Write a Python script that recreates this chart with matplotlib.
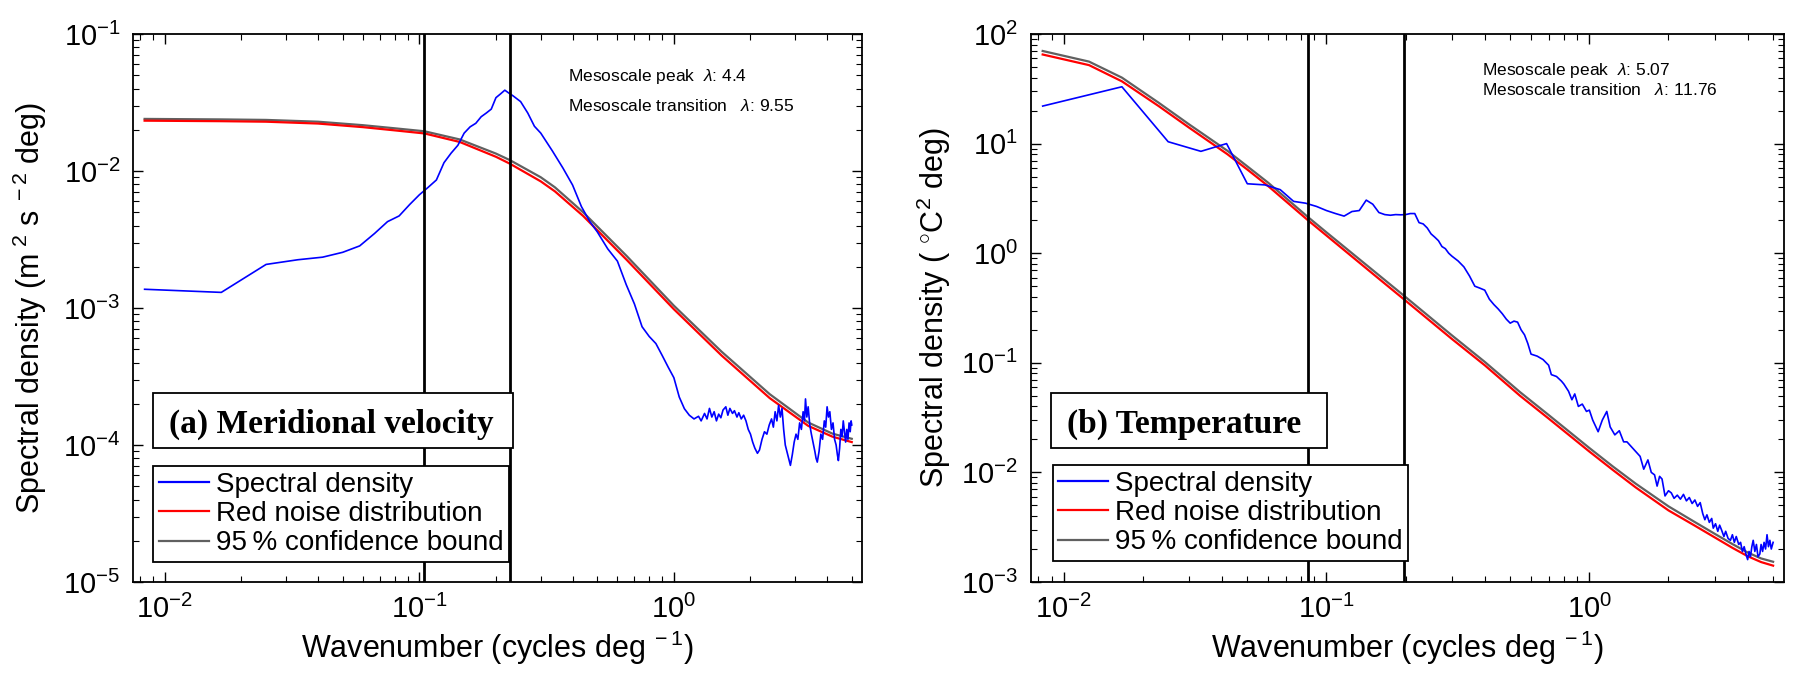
import matplotlib
matplotlib.use('Agg')
import matplotlib.pyplot as plt
from matplotlib.patches import Rectangle
from matplotlib.lines import Line2D
from matplotlib.ticker import LogLocator, NullFormatter

plt.rcParams['font.family'] = ['Liberation Sans', 'DejaVu Sans']
plt.rcParams['mathtext.fontset'] = 'custom'
plt.rcParams['mathtext.rm'] = 'Liberation Sans'
plt.rcParams['mathtext.it'] = 'Liberation Sans:italic'
plt.rcParams['mathtext.bf'] = 'Liberation Sans:bold'

# ---- (a) meridional velocity ----
vel_f = [0.00833, 0.01667, 0.025, 0.0333, 0.0417, 0.05, 0.0583, 0.0667, 0.075, 0.0833,
         0.0917, 0.1, 0.1083, 0.1167, 0.125, 0.1333, 0.1417, 0.15, 0.1583, 0.1667,
         0.175, 0.1833, 0.1917, 0.2, 0.2083, 0.2167, 0.225, 0.2333, 0.25, 0.2667,
         0.2833, 0.3, 0.3333, 0.3667, 0.4, 0.4333, 0.4667, 0.5, 0.55, 0.6,
         0.65, 0.7, 0.75, 0.8, 0.85, 0.9, 0.95, 1.0, 1.05, 1.1,
         1.15, 1.2, 1.25, 1.28, 1.32, 1.35, 1.38, 1.41, 1.44, 1.47,
         1.5, 1.53, 1.56, 1.6, 1.63, 1.66, 1.7, 1.73, 1.77, 1.8,
         1.84, 1.88, 1.92, 1.96, 2.0, 2.04, 2.08, 2.13, 2.17, 2.22,
         2.27, 2.32, 2.37, 2.42, 2.46, 2.5, 2.54, 2.58, 2.62, 2.66,
         2.7, 2.74, 2.8, 2.87, 2.92, 2.97, 3.02, 3.07, 3.12, 3.17,
         3.22, 3.26, 3.29, 3.33, 3.37, 3.42, 3.47, 3.52, 3.58, 3.62,
         3.66, 3.72, 3.78, 3.84, 3.9, 3.95, 4.0, 4.05, 4.1, 4.16,
         4.22, 4.28, 4.34, 4.39, 4.43, 4.48, 4.53, 4.58, 4.63, 4.68,
         4.73, 4.78, 4.83, 4.88, 4.93, 4.97, 5.0]
vel_s = [1.37e-3, 1.30e-3, 2.08e-3, 2.25e-3, 2.35e-3, 2.55e-3, 2.84e-3, 3.5e-3, 4.27e-3, 4.7e-3,
         5.7e-3, 6.7e-3, 7.6e-3, 8.6e-3, 1.15e-2, 1.35e-2, 1.54e-2, 1.89e-2, 2.1e-2, 2.23e-2,
         2.49e-2, 2.65e-2, 2.83e-2, 3.43e-2, 3.65e-2, 3.89e-2, 3.7e-2, 3.54e-2, 3.21e-2, 2.65e-2,
         2.12e-2, 1.89e-2, 1.4e-2, 1.05e-2, 7.9e-3, 5.5e-3, 4.3e-3, 3.6e-3, 2.7e-3, 2.2e-3,
         1.48e-3, 1.07e-3, 7.3e-4, 6.2e-4, 5.5e-4, 4.5e-4, 3.7e-4, 3.1e-4, 2.24e-4, 1.84e-4,
         1.65e-4, 1.55e-4, 1.62e-4, 1.5e-4, 1.7e-4, 1.55e-4, 1.85e-4, 1.6e-4, 1.75e-4, 1.5e-4,
         1.68e-4, 1.58e-4, 1.8e-4, 1.9e-4, 1.65e-4, 1.85e-4, 1.7e-4, 1.78e-4, 1.6e-4, 1.72e-4,
         1.55e-4, 1.65e-4, 1.5e-4, 1.3e-4, 1.2e-4, 1.05e-4, 9.5e-5, 8.7e-5, 9.2e-5, 1.1e-4,
         1.25e-4, 1.2e-4, 1.4e-4, 1.55e-4, 1.35e-4, 1.75e-4, 1.5e-4, 1.95e-4, 1.6e-4, 1.85e-4,
         1.3e-4, 1.0e-4, 8.5e-5, 7.1e-5, 8.5e-5, 1.05e-4, 1.2e-4, 1.1e-4, 1.45e-4, 1.3e-4,
         1.75e-4, 1.5e-4, 2.17e-4, 1.6e-4, 1.9e-4, 1.4e-4, 1.2e-4, 1.05e-4, 9e-5, 8e-5,
         7.5e-5, 9e-5, 1.2e-4, 1.1e-4, 1.5e-4, 1.35e-4, 1.9e-4, 1.6e-4, 1.75e-4, 1.3e-4,
         1.45e-4, 1.1e-4, 1.0e-4, 8.5e-5, 7.7e-5, 9.5e-5, 1.3e-4, 1.15e-4, 1.5e-4, 1.25e-4,
         1.05e-4, 1.3e-4, 1.1e-4, 1.45e-4, 1.25e-4, 1.5e-4, 1.4e-4]
vel_rn_f = [0.00833, 0.0167, 0.025, 0.04, 0.06, 0.08, 0.1047, 0.144, 0.2, 0.227,
            0.3, 0.341, 0.44, 0.652, 1.0, 1.54, 2.38, 3.37, 4.2, 5.0]
vel_red = [0.0233, 0.0231, 0.0229, 0.0222, 0.0209, 0.0198, 0.0188, 0.0163, 0.0127, 0.0113,
           0.0084, 0.0071, 0.0047, 0.00225, 9.8e-4, 4.5e-4, 2.2e-4, 1.38e-4, 1.15e-4, 1.05e-4]
vel_conf = [0.0240, 0.0238, 0.0236, 0.0229, 0.0216, 0.0205, 0.0195, 0.0170, 0.0134, 0.0120,
            0.0090, 0.0076, 0.0050, 0.00240, 1.04e-3, 4.8e-4, 2.35e-4, 1.46e-4, 1.21e-4, 1.11e-4]
vel_lambda = [4.4, 9.55]   # mesoscale peak, mesoscale transition

# ---- (b) temperature ----
tmp_f = [0.00833, 0.01667, 0.025, 0.0333, 0.0417, 0.05, 0.0583, 0.0667, 0.075, 0.0833,
         0.0917, 0.1, 0.1083, 0.1167, 0.125, 0.1333, 0.1417, 0.15, 0.1583, 0.1667,
         0.175, 0.1833, 0.1917, 0.2, 0.2083, 0.2167, 0.225, 0.2333, 0.2417, 0.25,
         0.2583, 0.2667, 0.275, 0.2833, 0.2917, 0.3, 0.3167, 0.3333, 0.35, 0.3667,
         0.3833, 0.4, 0.4167, 0.4333, 0.45, 0.4667, 0.4833, 0.5, 0.5167, 0.5333,
         0.55, 0.5667, 0.5833, 0.6, 0.6333, 0.6667, 0.7, 0.7167, 0.75, 0.7833,
         0.8, 0.8333, 0.8583, 0.88, 0.9083, 0.94, 0.975, 1.0, 1.03, 1.08,
         1.12, 1.165, 1.2, 1.25, 1.3, 1.35, 1.39, 1.45, 1.51, 1.56,
         1.61, 1.67, 1.72, 1.77, 1.81, 1.85, 1.89, 1.94, 2.0, 2.05,
         2.1, 2.16, 2.22, 2.28, 2.34, 2.4, 2.46, 2.52, 2.58, 2.64,
         2.7, 2.75, 2.8, 2.86, 2.92, 2.96, 3.02, 3.08, 3.13, 3.18,
         3.25, 3.3, 3.37, 3.44, 3.5, 3.56, 3.62, 3.7, 3.76, 3.82,
         3.88, 3.94, 4.0, 4.05, 4.1, 4.15, 4.2, 4.26, 4.32, 4.38,
         4.45, 4.5, 4.56, 4.62, 4.68, 4.74, 4.8, 4.86, 4.92, 5.0]
tmp_s = [22, 33, 10.4, 8.5, 10.0, 4.3, 4.2, 3.8, 2.97, 2.86,
         2.67, 2.45, 2.3, 2.18, 2.4, 2.45, 3.05, 2.8, 2.35, 2.25,
         2.22, 2.25, 2.24, 2.25, 2.3, 2.3, 1.9, 1.85, 1.7, 1.5,
         1.4, 1.3, 1.15, 1.1, 1.0, 0.94, 0.85, 0.75, 0.62, 0.5,
         0.48, 0.46, 0.38, 0.34, 0.31, 0.28, 0.25, 0.23, 0.24, 0.235,
         0.2, 0.18, 0.15, 0.12, 0.115, 0.107, 0.095, 0.078, 0.075, 0.068,
         0.064, 0.055, 0.046, 0.052, 0.040, 0.042, 0.036, 0.037, 0.030, 0.0235,
         0.030, 0.036, 0.026, 0.022, 0.024, 0.019, 0.019, 0.017, 0.0153, 0.014,
         0.0107, 0.013, 0.010, 0.0095, 0.0075, 0.0092, 0.0087, 0.0061, 0.0068, 0.0065,
         0.0058, 0.0062, 0.0057, 0.0063, 0.0055, 0.0059, 0.0052, 0.0056, 0.0049, 0.0053,
         0.0042, 0.0037, 0.0041, 0.0035, 0.0038, 0.0031, 0.0034, 0.0029, 0.0033, 0.0030,
         0.0026, 0.0029, 0.0025, 0.0024, 0.0027, 0.0023, 0.0026, 0.0022, 0.0023, 0.0019,
         0.0021, 0.0018, 0.0016, 0.0019, 0.0017, 0.0021, 0.0024, 0.0019, 0.0022, 0.0017,
         0.0018, 0.0022, 0.0019, 0.0023, 0.0020, 0.0027, 0.0021, 0.0024, 0.0020, 0.0023]
tmp_rn_f = [0.00833, 0.0125, 0.01667, 0.023, 0.03, 0.042, 0.05, 0.06, 0.085, 0.1,
            0.15, 0.197, 0.3, 0.4, 0.545, 0.7, 1.0, 1.23, 1.5, 2.0,
            2.5, 3.0, 3.5, 4.0, 4.5, 5.0]
tmp_red = [65, 52, 37, 22, 14, 8.0, 5.8, 4.1, 2.0, 1.45,
           0.65, 0.38, 0.165, 0.095, 0.05, 0.031, 0.0155, 0.0105, 0.0073, 0.0045,
           0.0033, 0.00255, 0.00205, 0.00172, 0.00152, 0.00141]
tmp_conf = [70, 56, 40, 23.6, 15, 8.6, 6.2, 4.4, 2.14, 1.55,
            0.70, 0.41, 0.178, 0.102, 0.054, 0.0334, 0.0167, 0.0113, 0.0079, 0.0049,
            0.00356, 0.00275, 0.00222, 0.00186, 0.00164, 0.00153]
tmp_lambda = [5.07, 11.76]

W, H = 1800, 698
fig = plt.figure(figsize=(W / 100, H / 100), dpi=100)


def fxy(px, py):
    # pixel position (from top-left) -> figure fraction
    return px / W, 1 - py / H


def panel(rect, f, s, rf, red, conf, lam, ylim, ylabel, ylab_x, title, tbox, tpos, legpos, notepos, notegap):
    ax = fig.add_axes(rect)
    ax.plot(rf, conf, color='#606060', lw=1.6, zorder=2)
    ax.plot(rf, red, color='#ff0000', lw=1.6, zorder=2.2)
    ax.plot(f, s, color='#0000ff', lw=1.2, zorder=2.5)
    for l in lam:
        ax.axvline(1 / l, color='black', lw=2.0, zorder=3)
    ax.set_xscale('log')
    ax.set_yscale('log')
    ax.set_xlim(0.0075, 5.5)
    ax.set_ylim(*ylim)
    ax.yaxis.set_major_locator(LogLocator(base=10, numticks=20))
    ax.yaxis.set_minor_locator(LogLocator(base=10, subs=range(2, 10), numticks=100))
    ax.xaxis.set_minor_locator(LogLocator(base=10, subs=range(2, 10), numticks=100))
    ax.xaxis.set_minor_formatter(NullFormatter())
    ax.yaxis.set_minor_formatter(NullFormatter())
    ax.tick_params(which='both', direction='in', top=True, right=True, labelsize=21, pad=9)
    ax.tick_params(which='major', length=7, width=1.0)
    ax.tick_params(which='minor', length=4, width=0.8)
    for sp in ax.spines.values():
        sp.set_linewidth(1.3)
    ax.set_xlabel('Wavenumber (cycles deg$^{\\ -1}$)', fontsize=22)
    ax.xaxis.set_label_coords(0.5, -0.085)
    ax.set_ylabel(ylabel, fontsize=22)
    ax.yaxis.set_label_coords(ylab_x, 0.5)

    # panel title box
    x0, y0, x1, y1 = tbox
    bx, by = fxy(x0, y1)
    rect_patch = Rectangle((bx, by), (x1 - x0) / W, (y1 - y0) / H, transform=fig.transFigure,
                           facecolor='white', edgecolor='black', lw=1.3, zorder=6, clip_on=False)
    ax.add_patch(rect_patch)
    ax.text(*fxy(*tpos), title, transform=fig.transFigure, fontsize=24, fontweight='bold',
            family='Liberation Serif', ha='left', va='baseline', zorder=7)

    handles = [Line2D([], [], color='#0000ff', lw=1.6),
               Line2D([], [], color='#ff0000', lw=1.6),
               Line2D([], [], color='#606060', lw=1.6)]
    labels = ['Spectral density', 'Red noise distribution', '95\u2009% confidence bound']
    leg = ax.legend(handles, labels, loc='upper left', bbox_to_anchor=fxy(*legpos),
                    bbox_transform=fig.transFigure, fontsize=20, frameon=True, fancybox=False,
                    edgecolor='black', framealpha=1, borderpad=0.2, labelspacing=0.12,
                    handlelength=1.8, handletextpad=0.25, borderaxespad=0)
    leg.get_frame().set_linewidth(1.3)
    leg.set_zorder(8)

    nx, ny = notepos
    ax.text(*fxy(nx, ny), 'Mesoscale peak  $\\lambda$: %s' % lam[0], transform=fig.transFigure,
            fontsize=12.5, ha='left', va='baseline')
    ax.text(*fxy(nx, ny + notegap), 'Mesoscale transition   $\\lambda$: %s' % lam[1],
            transform=fig.transFigure, fontsize=12.5, ha='left', va='baseline')
    return ax


panel([133 / W, 1 - 582 / H, 729.3 / W, 548 / H], vel_f, vel_s, vel_rn_f, vel_red, vel_conf,
      vel_lambda, (1e-5, 1e-1), 'Spectral density (m$^{\\ 2}$ s$^{\\ -2}$ deg)', -0.115,
      '(a) Meridional velocity', (153.3, 393.3, 512.7, 447.7), (169.3, 432.7),
      (153.3, 466), (568, 81), 30)
panel([1030.7 / W, 1 - 582 / H, 753.3 / W, 548 / H], tmp_f, tmp_s, tmp_rn_f, tmp_red, tmp_conf,
      tmp_lambda, (1e-3, 1e2), 'Spectral density ( $^{\\circ}$C$^{2}$ deg)', -0.1035,
      '(b) Temperature', (1050.7, 392.7, 1327.3, 447.7), (1066.7, 432.7),
      (1052.7, 465), (1482, 75), 20)

fig.savefig('out.png', dpi=100, facecolor='white')
